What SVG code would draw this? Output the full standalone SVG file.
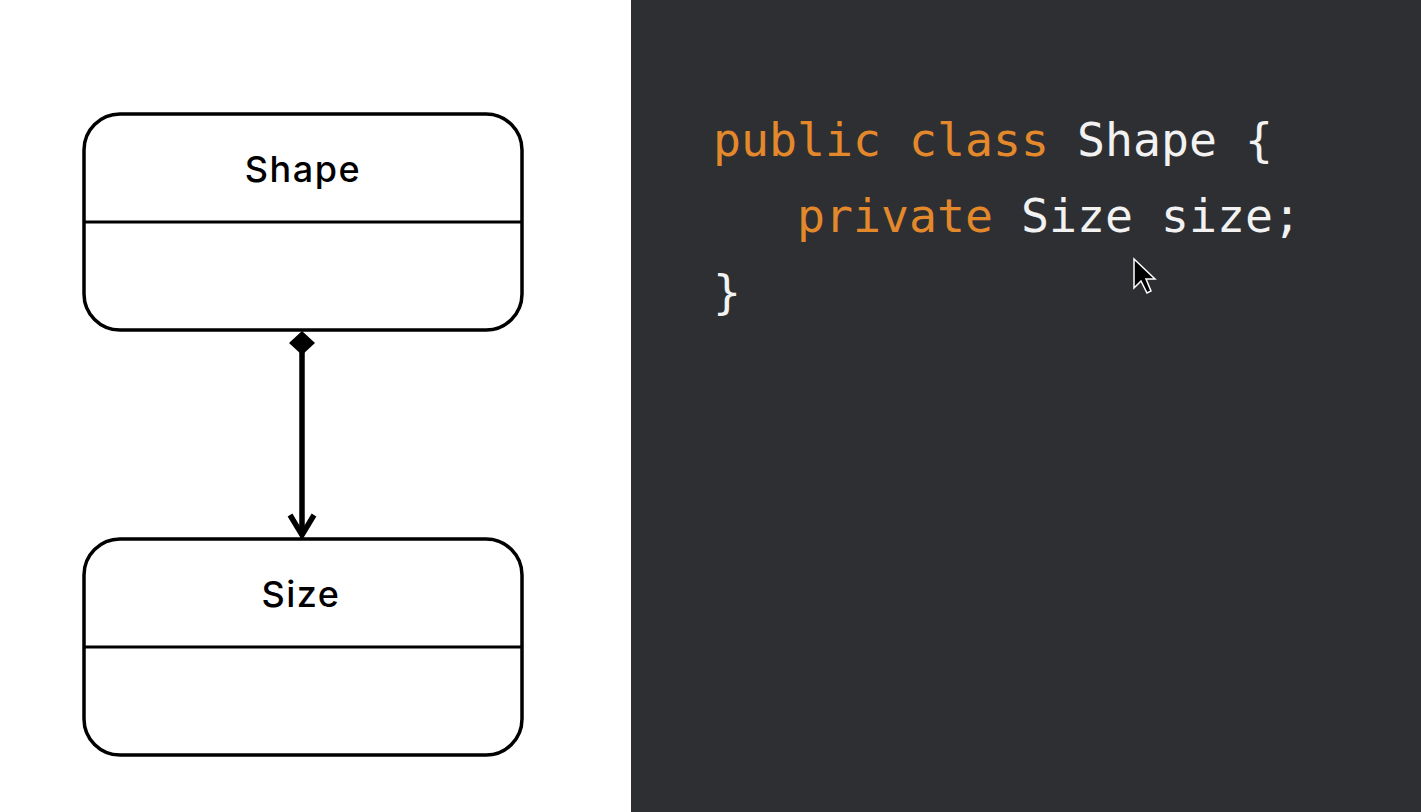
<svg xmlns="http://www.w3.org/2000/svg" width="1421" height="812" viewBox="0 0 1421 812">
<style>
.box{fill:#fff;stroke:#000;stroke-width:3.5}
.div{stroke:#000;stroke-width:3}
.title{font-family:"Inter","Open Sans",sans-serif;font-size:36px;font-weight:500;fill:#000;text-anchor:middle;letter-spacing:1.5px}
.code{font-family:"DejaVu Sans Mono","Liberation Mono",monospace;font-size:46.5px}
.kw{fill:#e3892b}
.id{fill:#f2f2f2}
</style>
<rect x="0" y="0" width="1421" height="812" fill="#fff"/>
<rect x="631" y="0" width="790" height="812" fill="#2e2f33"/>
<g id="shape">
<rect class="box" x="84" y="114" width="438" height="216" rx="36"/>
<line class="div" x1="84" y1="222" x2="522" y2="222"/>
<text class="title" x="303" y="182">Shape</text>
</g>
<g id="size">
<rect class="box" x="84" y="539" width="438" height="216" rx="36"/>
<line class="div" x1="84" y1="647" x2="522" y2="647"/>
<text class="title" x="301" y="607">Size</text>
</g>
<g id="connectors">
<line x1="302" y1="350" x2="302" y2="535" stroke="#000" stroke-width="5.5"/>
<polygon points="302,331 315,343 302,355 289,343" fill="#000"/>
<polyline points="290,515 302,535 314,515" fill="none" stroke="#000" stroke-width="5.5"/>
</g>
<g id="code">
<text class="code" x="713" y="156"><tspan class="kw">public class </tspan><tspan class="id">Shape {</tspan></text>
<text class="code" x="713" y="232" xml:space="preserve"><tspan class="kw">   private </tspan><tspan class="id">Size size;</tspan></text>
<text class="code id" x="713" y="308">}</text>
</g>
<g id="cursor">
<polygon points="1134,259 1134,288 1141,281 1147,293 1151,291 1146,279 1155,279" fill="#000" stroke="#fff" stroke-width="1.5"/>
</g>
</svg>
